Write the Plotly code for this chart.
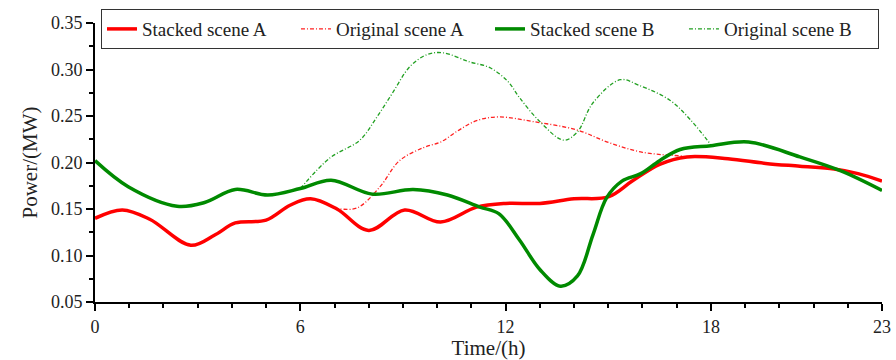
import plotly.graph_objects as go

# ---- data ----
stacked_a_x = [0, 0.8, 1.6, 2.8, 3.5, 4.1, 5.0, 5.7, 6.3, 7.07, 8.0, 9.05, 10.1, 11.15, 12.0,
               13.0, 14.0, 15.0, 15.7, 16.5, 17.3, 18.5, 19.6, 20.6, 21.6, 22.3, 23.0]
stacked_a_y = [0.140, 0.149, 0.139, 0.111, 0.122, 0.135, 0.138, 0.154, 0.161, 0.150, 0.127, 0.149,
               0.136, 0.152, 0.156, 0.156, 0.161, 0.163, 0.180, 0.198, 0.206, 0.204, 0.199, 0.196,
               0.193, 0.188, 0.180]

original_a_x = [7.0, 7.65, 8.33, 8.9, 9.6, 10.1, 10.6, 11.15, 11.8, 12.8, 14.08, 15.05, 16.0, 17.2]
original_a_y = [0.151, 0.151, 0.174, 0.202, 0.216, 0.222, 0.234, 0.245, 0.249, 0.244, 0.235,
                0.221, 0.211, 0.207]

stacked_b_x = [0, 0.97, 2.4, 3.2, 4.1, 5.05, 6.0, 6.9, 8.1, 9.3, 10.3, 11.25, 11.8, 12.4, 13.0,
               13.6, 14.1, 14.55, 14.95, 15.4, 15.95, 16.5, 17.1, 18.0, 19.1, 20.6, 21.8, 23.0]
stacked_b_y = [0.202, 0.174, 0.153, 0.157, 0.171, 0.165, 0.172, 0.181, 0.166, 0.171, 0.165, 0.152,
               0.145, 0.117, 0.085, 0.067, 0.078, 0.122, 0.162, 0.180, 0.188, 0.202, 0.214, 0.218,
               0.222, 0.206, 0.191, 0.170]

original_b_x = [6.0, 6.87, 7.74, 8.24, 8.7, 9.2, 9.7, 10.17, 10.96, 11.54, 12.07, 12.4, 13.0, 13.7,
                14.1, 14.55, 15.35, 15.9, 16.8, 17.4, 18.0]
original_b_y = [0.172, 0.205, 0.224, 0.249, 0.275, 0.303, 0.316, 0.318, 0.308, 0.302, 0.287, 0.270,
                0.244, 0.224, 0.233, 0.264, 0.289, 0.283, 0.267, 0.246, 0.219]

x_tick_vals = [0, 6, 12, 18, 23]
x_tick_text = ["0", "6", "12", "18", "23"]

FONT = "Liberation Serif, Times New Roman, serif"
DASH = "4px,2px,1px,2px"

fig = go.Figure()
# originals drawn first (beneath), legend order fixed by legendrank
fig.add_trace(go.Scatter(x=original_a_x, y=original_a_y, mode="lines", name="Original scene A",
                         legendrank=2,
                         line=dict(color="#ff2020", width=1.3, dash=DASH, shape="spline", smoothing=1.0)))
fig.add_trace(go.Scatter(x=original_b_x, y=original_b_y, mode="lines", name="Original scene B",
                         legendrank=4,
                         line=dict(color="#22a022", width=1.3, dash=DASH, shape="spline", smoothing=1.0)))
fig.add_trace(go.Scatter(x=stacked_a_x, y=stacked_a_y, mode="lines", name="Stacked scene A",
                         legendrank=1,
                         line=dict(color="#ff0000", width=3.5, shape="spline", smoothing=1.0)))
fig.add_trace(go.Scatter(x=stacked_b_x, y=stacked_b_y, mode="lines", name="Stacked scene B",
                         legendrank=3,
                         line=dict(color="#008a00", width=3.5, shape="spline", smoothing=1.0)))

fig.update_layout(
    width=896, height=360,
    margin=dict(l=95, r=14, t=23, b=58, autoexpand=False),
    paper_bgcolor="white", plot_bgcolor="white",
    font=dict(family=FONT, size=18, color="#222"),
    legend=dict(orientation="h", x=0.0076, xanchor="left", y=1.05, yanchor="top",
                bordercolor="#333", borderwidth=1, bgcolor="rgba(255,255,255,0)",
                font=dict(family=FONT, size=19, color="#222"),
                entrywidth=149, entrywidthmode="pixels", itemwidth=30,
                tracegroupgap=0),
    showlegend=True,
)

fig.update_xaxes(range=[0, 23], tickmode="array", tickvals=x_tick_vals, ticktext=x_tick_text,
                 showgrid=False, zeroline=False, showline=True, linecolor="black", linewidth=2,
                 ticks="outside", ticklen=7, tickwidth=2, tickcolor="black",
                 minor=dict(tickmode="array", tickvals=list(range(24)), ticks="outside",
                            ticklen=4, tickwidth=2, tickcolor="black", showgrid=False),
                 title=dict(text="Time/(h)", font=dict(family=FONT, size=21), standoff=4))
fig.update_yaxes(range=[0.05, 0.35], dtick=0.05, tick0=0.05, tickformat=".2f",
                 showgrid=False, zeroline=False, showline=True, linecolor="black", linewidth=2,
                 ticks="outside", ticklen=7, tickwidth=2, tickcolor="black",
                 minor=dict(dtick=0.025, tick0=0.05, ticks="outside", ticklen=4, tickwidth=2,
                            tickcolor="black", showgrid=False),
                 title=dict(text="Power/(MW)", font=dict(family=FONT, size=21), standoff=8))

fig.write_html("out.html")
